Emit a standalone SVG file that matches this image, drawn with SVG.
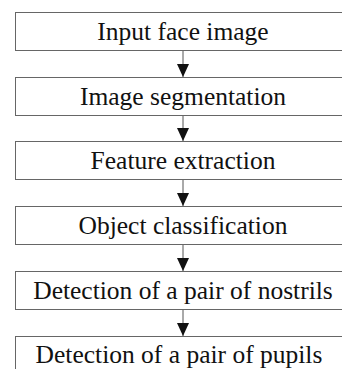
<svg xmlns="http://www.w3.org/2000/svg" width="342" height="369" viewBox="0 0 342 369">
  <style>
    .box { fill: #ffffff; stroke: #666666; stroke-width: 1; }
    .link { stroke: #555555; stroke-width: 1; fill: none; marker-end: url(#arrow); }
  </style>
  <defs>
    <marker id="arrow" markerUnits="userSpaceOnUse" markerWidth="13" markerHeight="12" refX="13" refY="6" orient="auto" viewBox="0 0 13 12">
      <path d="M0,0 L13,6 L0,12 Z" fill="#111111"/>
    </marker>
  </defs>
  <rect width="342" height="369" fill="#ffffff"/>

  <!-- flow arrows between the stages -->
  <g id="connectors">
    <line class="link" x1="183" y1="50" x2="183" y2="77"/>
    <line class="link" x1="183" y1="115" x2="183" y2="141"/>
    <line class="link" x1="183" y1="179" x2="183" y2="206"/>
    <line class="link" x1="183" y1="244" x2="183" y2="271"/>
    <line class="link" x1="183" y1="309" x2="183" y2="336"/>
  </g>

  <!-- processing stages -->
  <g font-family="Liberation Serif" font-size="25.5" fill="#111111" text-anchor="middle">
    <g id="input-face-image">
      <rect class="box" x="15.5" y="12.5" width="340" height="38"/>
      <text x="183" y="39.5">Input face image</text>
    </g>
    <g id="image-segmentation">
      <rect class="box" x="15.5" y="77.5" width="340" height="38"/>
      <text x="183" y="104.5">Image segmentation</text>
    </g>
    <g id="feature-extraction">
      <rect class="box" x="15.5" y="141.5" width="340" height="38"/>
      <text x="183" y="168.5">Feature extraction</text>
    </g>
    <g id="object-classification">
      <rect class="box" x="15.5" y="206.5" width="340" height="38"/>
      <text x="183" y="233.5">Object classification</text>
    </g>
    <g id="detect-nostrils">
      <rect class="box" x="15.5" y="271.5" width="340" height="38"/>
      <text x="183" y="298.5">Detection of a pair of nostrils</text>
    </g>
    <g id="detect-pupils">
      <rect class="box" x="15.5" y="336.5" width="340" height="38"/>
      <text x="179" y="363">Detection of a pair of pupils</text>
    </g>
  </g>
</svg>
